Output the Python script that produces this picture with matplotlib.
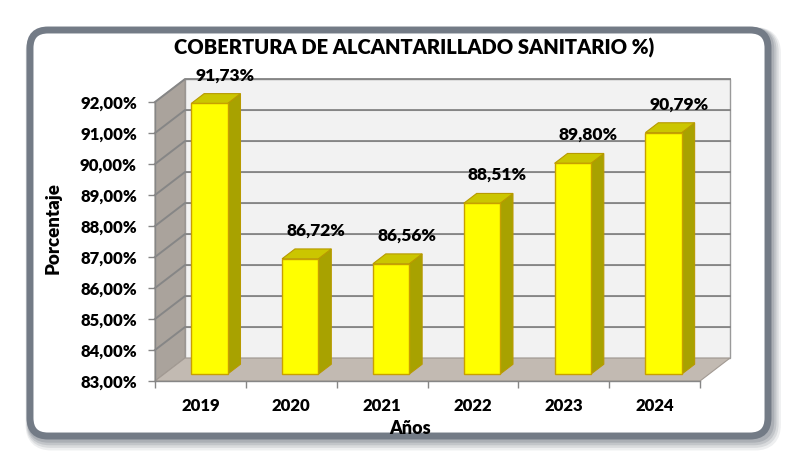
import matplotlib.pyplot as plt
from matplotlib.patches import Polygon, FancyBboxPatch
from matplotlib.ticker import FuncFormatter, MultipleLocator

plt.rcParams['font.family'] = ['Lato', 'DejaVu Sans']
plt.rcParams['font.weight'] = 'heavy'

years = ['2019', '2020', '2021', '2022', '2023', '2024']
coverage = [91.73, 86.72, 86.56, 88.51, 89.80, 90.79]
title = 'COBERTURA DE ALCANTARILLADO SANITARIO %)'
y_min, y_max = 83, 92

W, H = 792, 462
fig = plt.figure(figsize=(W / 100, H / 100), dpi=100)

# frame with rounded corners and a soft shadow (pixel coords)
deco = fig.add_axes([0, 0, 1, 1], zorder=0)
deco.set_xlim(0, W)
deco.set_ylim(H, 0)
deco.axis('off')
for k, a in enumerate([0.10, 0.14, 0.18, 0.22]):
    off = 8 - 2 * k
    deco.add_patch(FancyBboxPatch((30 + off * 0.4, 30 + off * 0.6), 740, 408,
                                  boxstyle='round,pad=0,rounding_size=18',
                                  fc='none', ec='#5a6370', lw=3 + off, alpha=a))
deco.add_patch(FancyBboxPatch((30, 30), 738, 406,
                              boxstyle='round,pad=0,rounding_size=18',
                              fc='white', ec='#737b86', lw=5))

# front plane of the 3D chart
ax = fig.add_axes([155 / W, 81 / H, 545 / W, 279 / H], zorder=1)
ax.set_facecolor('none')
ax.set_xlim(-0.5, len(years) - 0.5)
ax.set_ylim(y_min, y_max)

# depth offset of the back plane, in data units
DX, DY = 0.33, 0.74
x0, x1 = -0.5, len(years) - 0.5

# walls and floor
ax.add_patch(Polygon([(x0 + DX, y_min + DY), (x1 + DX, y_min + DY),
                      (x1 + DX, y_max + DY), (x0 + DX, y_max + DY)],
                     closed=True, fc='#f2f2f2', ec='#9a9a9a', lw=1.0,
                     clip_on=False, zorder=1))
ax.add_patch(Polygon([(x0, y_min), (x0 + DX, y_min + DY),
                      (x0 + DX, y_max + DY), (x0, y_max)],
                     closed=True, fc='#aaa39c', ec='#9a948d', lw=0.8,
                     clip_on=False, zorder=1))
ax.add_patch(Polygon([(x0, y_min), (x1, y_min),
                      (x1 + DX, y_min + DY), (x0 + DX, y_min + DY)],
                     closed=True, fc='#c2bab2', ec='#a29a93', lw=0.8,
                     clip_on=False, zorder=1))

# gridlines on left wall and back wall
for v in range(y_min + 1, y_max + 1):
    ax.plot([x0, x0 + DX, x1 + DX], [v, v + DY, v + DY],
            color='#868686', lw=1.4, clip_on=False, zorder=2)

# 3D bars
w = 0.40
d0, d1 = 0.30, 0.73
for i, v in enumerate(coverage):
    bl = i - w / 2 + d0 * DX
    br = i + w / 2 + d0 * DX
    base = y_min + d0 * DY
    top = v + d0 * DY
    ddx, ddy = (d1 - d0) * DX, (d1 - d0) * DY
    ax.add_patch(Polygon([(br, base), (br + ddx, base + ddy),
                          (br + ddx, top + ddy), (br, top)],
                         closed=True, fc='#a8a200', ec='#b89a00', lw=0.8,
                         clip_on=False, zorder=3))
    ax.add_patch(Polygon([(bl, top), (br, top), (br + ddx, top + ddy),
                          (bl + ddx, top + ddy)],
                         closed=True, fc='#cbc600', ec='#b89a00', lw=0.8,
                         clip_on=False, zorder=3))
    ax.add_patch(Polygon([(bl, base), (br, base), (br, top), (bl, top)],
                         closed=True, fc='#ffff00', ec='#c8a000', lw=1.0,
                         clip_on=False, zorder=4))
    ax.annotate(f'{v:.2f}%'.replace('.', ','), (i + 0.27, v + DY),
                xytext=(0, 3), textcoords='offset points',
                ha='center', va='bottom', fontsize=12.5,
                annotation_clip=False, zorder=5)

# axes, ticks, labels
for s in ['top', 'right']:
    ax.spines[s].set_visible(False)
for s in ['left', 'bottom']:
    ax.spines[s].set_color('#868686')
    ax.spines[s].set_linewidth(1.0)
    ax.spines[s].set_zorder(5)

ax.yaxis.set_major_locator(MultipleLocator(1))
ax.yaxis.set_major_formatter(FuncFormatter(lambda v, p: f'{v:.2f}%'.replace('.', ',')))
ax.tick_params(axis='y', length=5, width=1.0, color='#868686', pad=8,
               labelsize=12)
ax.set_xticks(range(len(years)))
ax.set_xticklabels(years)
ax.set_xticks([k - 0.5 for k in range(len(years) + 1)], minor=True)
ax.tick_params(axis='x', which='major', length=0, pad=12.5, labelsize=12)
ax.tick_params(axis='x', which='minor', length=5, width=1.0, color='#868686')
for lab in ax.get_xticklabels() + ax.get_yticklabels():
    lab.set_fontweight('heavy')

fig.text(414 / W, 1 - 48 / H, title, ha='center', va='center',
         fontsize=14.5)
fig.text(53 / W, 1 - 228 / H, 'Porcentaje', ha='center', va='center',
         rotation=90, fontsize=13.5)
fig.text(410 / W, 1 - 428 / H, 'Años', ha='center', va='center',
         fontsize=13)

fig.savefig('out.png', dpi=100)
